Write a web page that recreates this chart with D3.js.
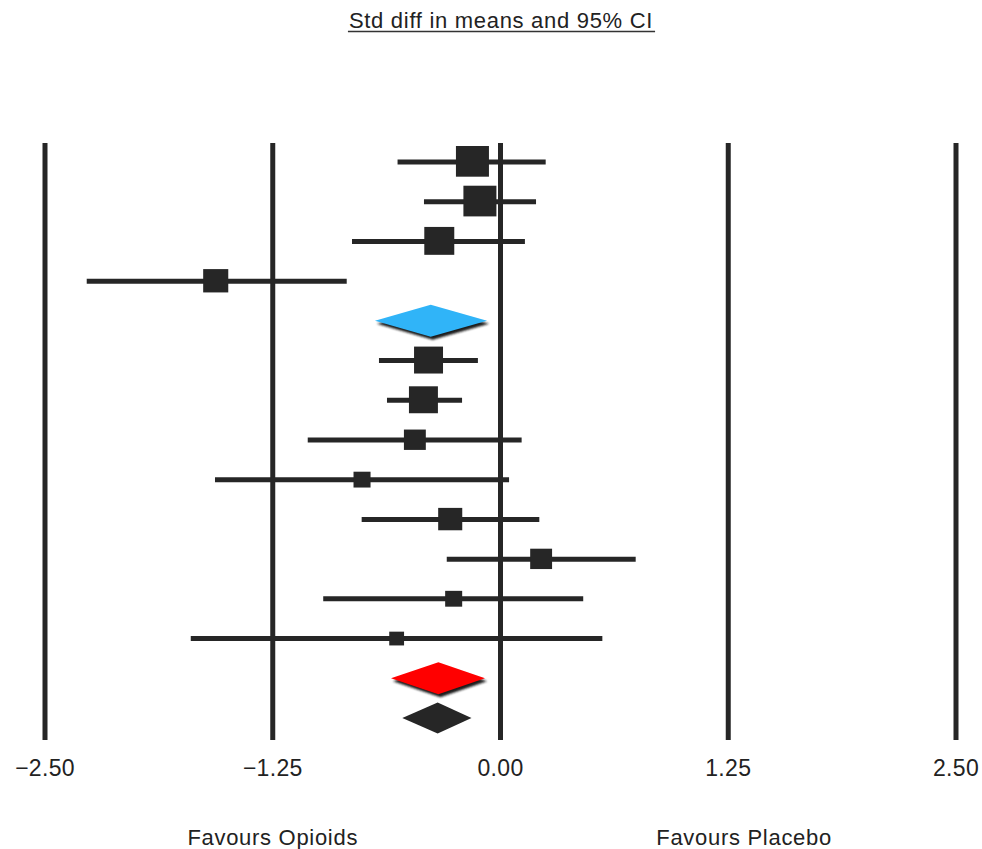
<!DOCTYPE html>
<html><head><meta charset="utf-8">
<script src="https://cdn.jsdelivr.net/npm/d3@7"></script>
<style>html,body{margin:0;padding:0;background:#fff;}svg{display:block;}</style>
</head><body>
<svg id="chart" width="982" height="849"></svg>
<script>
// ---- data ----
const studies = ["S1","S2","S3","S4","Sub1","S5","S6","S7","S8","S9","S10","S11","S12","Sub2","Overall"];
const kinds   = ["study","study","study","study","sub1","study","study","study","study","study","study","study","study","sub2","overall"];
const effect  = [-0.154,-0.113,-0.336,-1.563,-0.383,-0.395,-0.423,-0.470,-0.760,-0.276, 0.223,-0.257,-0.570,-0.341,-0.345];
const lower   = [-0.565,-0.420,-0.815,-2.271,-0.689,-0.667,-0.623,-1.058,-1.567,-0.762,-0.295,-0.973,-1.700,-0.601,-0.539];
const upper   = [ 0.248, 0.195, 0.134,-0.844,-0.074,-0.124,-0.211, 0.116, 0.047, 0.213, 0.742, 0.454, 0.559,-0.085,-0.159];
const weight  = [ 10.9, 10.9, 9.0, 6.3, null, 8.4, 8.4, 4.8, 2.9, 5.8, 4.8, 2.9, 2.2, null, null];
const tickValues = [-2.5,-1.25,0,1.25,2.5];
const tickLabels = ["\u22122.50","\u22121.25","0.00","1.25","2.50"];
const titleText = "Std diff in means and 95% CI";
const favourLeft = "Favours Opioids";
const favourRight = "Favours Placebo";

// ---- layout ----
const svg = d3.select("#chart");
const font = "'Liberation Sans', Arial, Helvetica, sans-serif";
const ink = "#262626";
const x = d3.scaleLinear().domain([-2.5, 2.5]).range([45, 956]);
const y = d3.scalePoint().domain(d3.range(studies.length)).range([162, 718]);
const sz = d3.scaleSqrt().domain([0, d3.max(weight)]).range([0, 33]);

const defs = svg.append("defs");
defs.append("filter").attr("id","soft").append("feGaussianBlur").attr("stdDeviation",0.8);

// title
const title = svg.append("text").attr("x", 501).attr("y", 28)
  .attr("text-anchor","middle").attr("font-family",font).attr("font-size",22)
  .attr("fill","#222").attr("letter-spacing","0.7").text(titleText);
const tb = title.node().getBBox();
svg.append("line").attr("x1",tb.x-1).attr("x2",tb.x+tb.width+2).attr("y1",31.5).attr("y2",31.5)
  .attr("stroke","#333").attr("stroke-width",1.5);

// vertical reference lines
svg.selectAll("line.v").data(tickValues).join("line").attr("class","v")
  .attr("x1",d=>x(d)).attr("x2",d=>x(d)).attr("y1",143).attr("y2",740)
  .attr("stroke",ink).attr("stroke-width",5);

// tick labels
svg.selectAll("text.tick").data(tickValues).join("text").attr("class","tick")
  .attr("x",d=>x(d)).attr("y",776).attr("text-anchor","middle")
  .attr("font-family",font).attr("font-size",23).attr("fill","#222")
  .attr("letter-spacing","0.3")
  .text((d,i)=>tickLabels[i]);

// favours labels
svg.append("text").attr("x", x(-1.25)).attr("y",845).attr("text-anchor","middle")
  .attr("font-family",font).attr("font-size",22).attr("fill","#222").attr("letter-spacing","0.7").text(favourLeft);
svg.append("text").attr("x", x(1.337)).attr("y",845).attr("text-anchor","middle")
  .attr("font-family",font).attr("font-size",22).attr("fill","#222").attr("letter-spacing","0.7").text(favourRight);

// study rows
const idx = d3.range(studies.length);
const studyIdx = idx.filter(i=>kinds[i]==="study");
svg.selectAll("line.ci").data(studyIdx).join("line").attr("class","ci")
  .attr("x1",i=>x(lower[i])).attr("x2",i=>x(upper[i]))
  .attr("y1",i=>y(i)).attr("y2",i=>y(i))
  .attr("stroke",ink).attr("stroke-width",5);
svg.selectAll("rect.sq").data(studyIdx).join("rect").attr("class","sq")
  .attr("x",i=>x(effect[i])-sz(weight[i])/2).attr("y",i=>y(i)-sz(weight[i])/2+0.5)
  .attr("width",i=>sz(weight[i])).attr("height",i=>sz(weight[i])*0.93)
  .attr("fill",ink);

// diamonds
const diamondColors = {sub1:"#30b4f8", sub2:"#ff0000", overall:ink};
const diamondHalfH = {sub1:16, sub2:16, overall:15.5};
function diamondPath(i, dx, dy){
  const h = diamondHalfH[kinds[i]], cy = y(i)+dy;
  return `M${x(lower[i])+dx},${cy}L${x(effect[i])+dx},${cy-h}L${x(upper[i])+dx},${cy}L${x(effect[i])+dx},${cy+h}Z`;
}
const dIdx = idx.filter(i=>kinds[i]!=="study");
// shadows for coloured diamonds
svg.selectAll("path.shadow").data(dIdx.filter(i=>kinds[i]!=="overall")).join("path").attr("class","shadow")
  .attr("d",i=>diamondPath(i,2,3)).attr("fill","#1a1a1a").attr("filter","url(#soft)");
svg.selectAll("path.dia").data(dIdx).join("path").attr("class","dia")
  .attr("d",i=>diamondPath(i,0,0)).attr("fill",i=>diamondColors[kinds[i]]);
</script>
</body></html>
